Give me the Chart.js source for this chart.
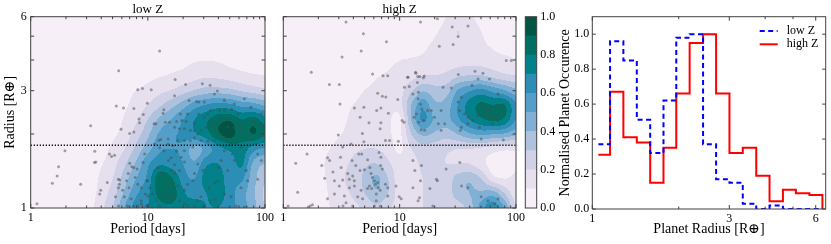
<!DOCTYPE html>
<html>
<head>
<meta charset="utf-8">
<script src="https://cdn.jsdelivr.net/npm/chart.js@4"></script>
<style>
  body { margin: 0; background: #fff; }
  #wrap { position: relative; width: 831px; height: 244px; }
  canvas { position: absolute; top: 0; }
</style>
</head>
<body>
<div id="wrap">
  <canvas id="lowZ" width="280" height="244" style="left:0px"></canvas>
  <canvas id="highZ" width="260" height="244" style="left:270px"></canvas>
  <canvas id="colorbar" width="50" height="244" style="left:520px"></canvas>
  <canvas id="radiusHist" width="291" height="244" style="left:540px"></canvas>
</div>
<script>
// ---- axes ----
const periodTicks = [1, 2, 3, 4, 5, 6, 7, 8, 9, 10, 20, 30, 40, 50, 60, 70, 80, 90, 100];
const periodLabels = [1, 10, 100];
const radiusTicks = [1, 2, 3, 4, 5, 6];
const radiusLabels = [1, 3, 6];
const gapRadius = 1.8;

// ---- density grids (rows from R=1 upward, columns from P=1 rightward) ----
const gridPeriods = [1, 1.26, 1.58, 2, 2.51, 3.16, 3.98, 5.01, 6.31, 7.94, 10, 12.6, 15.8, 20, 25.1, 31.6, 39.8, 50.1, 63.1, 79.4, 100];
const gridRadii = [1, 1.148, 1.318, 1.514, 1.738, 1.995, 2.291, 2.63, 3.02, 3.467, 3.981, 4.571, 5.248, 6.026];

const lowZDensity = [
  [0, 0, 0, 0, 0, 0.06, 0.17, 0.3, 0.5, 0.65, 0.7, 0.76, 0.78, 0.74, 0.78, 0.7, 0.7, 0.64, 0.55, 0.44, 0.3],
  [0, 0, 0, 0, 0, 0.05, 0.14, 0.25, 0.42, 0.58, 0.68, 0.84, 0.86, 0.72, 0.65, 0.7, 0.76, 0.64, 0.55, 0.42, 0.28],
  [0, 0, 0, 0, 0, 0.04, 0.12, 0.2, 0.35, 0.5, 0.63, 0.88, 0.82, 0.65, 0.6, 0.76, 0.78, 0.62, 0.62, 0.44, 0.32],
  [0, 0, 0, 0, 0, 0.03, 0.09, 0.16, 0.28, 0.42, 0.58, 0.68, 0.65, 0.6, 0.52, 0.68, 0.7, 0.64, 0.72, 0.48, 0.4],
  [0, 0, 0, 0, 0, 0.01, 0.06, 0.12, 0.2, 0.33, 0.46, 0.58, 0.6, 0.58, 0.45, 0.55, 0.66, 0.72, 0.76, 0.64, 0.58],
  [0, 0, 0, 0, 0, 0, 0.04, 0.08, 0.14, 0.25, 0.38, 0.52, 0.58, 0.62, 0.68, 0.76, 0.88, 0.94, 0.84, 0.9, 0.82],
  [0, 0, 0, 0, 0, 0, 0.01, 0.05, 0.11, 0.18, 0.3, 0.42, 0.5, 0.6, 0.7, 0.78, 0.86, 0.88, 0.8, 0.84, 0.75],
  [0, 0, 0, 0, 0, 0, 0, 0.02, 0.08, 0.14, 0.2, 0.28, 0.36, 0.45, 0.55, 0.6, 0.64, 0.62, 0.56, 0.54, 0.48],
  [0, 0, 0, 0, 0, 0, 0, 0, 0.05, 0.1, 0.13, 0.17, 0.2, 0.25, 0.3, 0.34, 0.34, 0.32, 0.28, 0.25, 0.22],
  [0, 0, 0, 0, 0, 0, 0, 0, 0, 0.03, 0.07, 0.09, 0.11, 0.13, 0.16, 0.18, 0.17, 0.15, 0.13, 0.11, 0.1],
  [0, 0, 0, 0, 0, 0, 0, 0, 0, 0, 0.02, 0.03, 0.05, 0.07, 0.09, 0.1, 0.09, 0.07, 0.05, 0.04, 0.03],
  [0, 0, 0, 0, 0, 0, 0, 0, 0, 0, 0, 0, 0, 0, 0, 0, 0, 0, 0, 0, 0],
  [0, 0, 0, 0, 0, 0, 0, 0, 0, 0, 0, 0, 0, 0, 0, 0, 0, 0, 0, 0, 0],
  [0, 0, 0, 0, 0, 0, 0, 0, 0, 0, 0, 0, 0, 0, 0, 0, 0, 0, 0, 0, 0],
];

const highZDensity = [
  [0, 0, 0, 0.04, 0.1, 0.14, 0.17, 0.22, 0.28, 0.22, 0.16, 0.18, 0.2, 0.22, 0.22, 0.25, 0.35, 0.55, 0.68, 0.5, 0.2],
  [0, 0, 0, 0.05, 0.11, 0.16, 0.22, 0.3, 0.38, 0.3, 0.15, 0.17, 0.2, 0.22, 0.24, 0.35, 0.4, 0.42, 0.45, 0.3, 0.14],
  [0, 0, 0, 0.06, 0.12, 0.18, 0.25, 0.32, 0.42, 0.3, 0.14, 0.16, 0.2, 0.22, 0.24, 0.34, 0.38, 0.3, 0.14, 0.1, 0.12],
  [0, 0.02, 0.05, 0.08, 0.12, 0.17, 0.22, 0.28, 0.3, 0.22, 0.14, 0.16, 0.22, 0.22, 0.2, 0.2, 0.2, 0.14, 0.06, 0.05, 0.08],
  [0, 0.02, 0.04, 0.07, 0.1, 0.14, 0.18, 0.2, 0.2, 0.16, 0.08, 0.2, 0.26, 0.24, 0.22, 0.2, 0.2, 0.18, 0.15, 0.12, 0.12],
  [0, 0.01, 0.03, 0.05, 0.07, 0.1, 0.14, 0.16, 0.15, 0.12, 0.08, 0.3, 0.42, 0.38, 0.34, 0.4, 0.48, 0.52, 0.5, 0.48, 0.42],
  [0, 0, 0, 0.02, 0.05, 0.08, 0.12, 0.15, 0.14, 0.12, 0.08, 0.4, 0.62, 0.48, 0.46, 0.58, 0.7, 0.78, 0.82, 0.78, 0.6],
  [0, 0, 0, 0.02, 0.04, 0.07, 0.1, 0.13, 0.14, 0.13, 0.16, 0.4, 0.56, 0.42, 0.44, 0.6, 0.74, 0.82, 0.8, 0.8, 0.62],
  [0, 0, 0, 0, 0.02, 0.04, 0.06, 0.1, 0.12, 0.12, 0.16, 0.28, 0.38, 0.34, 0.35, 0.5, 0.58, 0.62, 0.56, 0.5, 0.42],
  [0, 0, 0, 0, 0, 0, 0.02, 0.05, 0.09, 0.11, 0.13, 0.16, 0.2, 0.2, 0.22, 0.28, 0.3, 0.3, 0.26, 0.22, 0.2],
  [0, 0, 0, 0, 0, 0, 0, 0.02, 0.04, 0.07, 0.1, 0.11, 0.12, 0.13, 0.15, 0.16, 0.17, 0.16, 0.14, 0.13, 0.11],
  [0, 0, 0, 0, 0, 0, 0, 0, 0, 0, 0.03, 0.05, 0.08, 0.12, 0.16, 0.18, 0.16, 0.12, 0.09, 0.06, 0.04],
  [0, 0, 0, 0, 0, 0, 0, 0, 0, 0, 0, 0, 0.03, 0.08, 0.14, 0.2, 0.15, 0.1, 0.05, 0.02, 0],
  [0, 0, 0, 0, 0, 0, 0, 0, 0, 0, 0, 0, 0, 0.03, 0.1, 0.14, 0.12, 0.06, 0, 0, 0],
];

// ---- planets [period (days), radius (R_earth)] ----
const lowZPlanets = [
  [12.6, 4.35], [5.64, 3.62], [17.1, 3.33], [21.0, 3.18], [29.2, 3.2], [34, 3.16], [39.2, 2.99], [8.2, 3.03], [9.0, 3.06], [10.7, 3.03],
  [9.9, 2.67], [5.38, 2.6], [6.2, 2.55], [7.6, 2.54], [9.15, 2.4], [8.4, 2.3], [8.5, 2.22], [5.9, 2.09], [3.25, 2.16], [7.6, 2.04],
  [7.0, 2.01], [1.96, 1.71], [3.52, 1.7], [3.6, 1.54], [3.5, 1.53], [1.73, 1.47], [1.68, 1.35], [1.53, 1.26], [2.67, 1.25], [1.13, 1.04],
  [4.7, 1.66], [4.9, 1.62], [5.2, 1.64], [4.5, 1.27], [3.96, 1.18], [3.88, 1.14], [5.6, 1.31], [5.75, 1.3], [5.7, 1.25], [5.6, 1.21],
  [6.1, 1.18], [5.3, 1.11], [5.6, 1.02], [7.0, 1.52], [7.3, 1.47], [7.6, 1.46], [8.1, 1.44], [9.1, 1.53], [9.4, 1.66], [6.8, 1.38],
  [6.6, 1.29], [7.8, 1.33], [6.9, 1.21], [8.2, 1.25], [8.8, 1.21], [9.8, 1.29], [10.0, 1.12], [6.3, 1.11], [7.2, 1.09], [7.6, 1.02],
  [6.7, 1.02], [8.8, 1.04], [9.7, 1.02],
  [13.7, 2.51], [13.5, 2.43], [11.3, 2.2], [11.7, 2.2], [14.1, 2.23], [15.3, 2.23], [17.6, 2.25], [19.5, 2.27], [21.2, 2.25], [23.1, 2.07],
  [25.0, 2.06], [21.8, 2.41], [26.0, 2.71], [27.2, 2.7], [22.5, 2.74], [16.9, 2.86], [12.4, 1.88], [12.9, 1.9], [14.9, 1.91], [11.4, 1.82],
  [12.6, 1.76], [13.7, 1.71], [15.8, 1.6], [17.6, 1.7], [20.5, 1.88], [23.0, 1.88], [25.0, 1.93], [28.5, 1.88], [32.5, 1.87], [20.5, 1.54],
  [18.6, 1.42], [16.9, 1.5], [15.0, 1.56], [12.2, 1.46], [13.3, 1.38], [15.8, 1.42], [16.9, 1.38], [14.0, 1.29], [14.9, 1.21], [16.1, 1.26],
  [18.0, 1.23], [15.3, 1.14], [13.4, 1.12], [16.9, 1.12], [18.6, 1.07], [20.5, 1.04], [21.8, 1.02], [25.0, 1.02], [26.7, 1.07], [28.5, 1.11],
  [30.4, 1.02], [33.5, 1.21], [37.0, 1.27], [40.3, 1.46], [42.2, 1.56], [39.5, 1.29], [34.2, 1.07], [37.7, 1.08], [45.0, 1.14], [51.3, 1.11],
  [56.6, 1.02], [66.6, 1.01], [62.4, 1.21], [71.0, 1.29], [69.0, 1.42], [86.5, 1.31], [84.0, 1.82], [88.0, 2.2], [81.0, 2.27], [75.9, 2.0],
  [71.0, 1.88], [62.4, 1.77], [51.3, 1.82], [48.0, 1.88], [45.0, 1.94], [41.5, 2.0], [38.7, 2.07], [36.0, 2.2], [34.2, 2.27], [32.5, 2.41],
  [30.4, 2.34], [41.0, 2.49], [45.0, 2.49], [52.0, 2.52], [58.4, 2.41], [54.8, 2.13], [48.0, 2.13], [42.8, 2.23], [47.3, 2.3], [52.0, 2.27],
  [60.5, 2.2], [62.4, 2.07], [34.2, 2.49], [31.4, 2.13], [28.5, 2.07], [26.7, 2.0], [37.0, 1.88], [24.2, 1.77], [20.5, 1.71], [19.2, 1.61],
  [26.7, 1.51], [29.5, 1.42], [25.0, 1.38], [24.2, 1.29], [21.8, 1.25], [20.5, 1.18], [10.0, 1.29], [10.4, 1.21], [9.5, 1.14], [8.8, 1.07],
  [8.2, 1.02], [11.0, 1.14], [11.8, 1.07], [12.6, 1.02], [10.0, 1.02], [48.0, 1.42], [54.8, 1.56], [52.5, 1.66], [45.0, 1.71], [18.0, 1.88],
  [16.4, 1.79], [14.9, 1.82], [18.6, 2.1], [16.9, 2.13], [20.5, 2.1], [25.0, 2.2], [19.0, 2.41], [27.2, 2.41], [30.4, 2.7], [37.0, 2.91],
  [45.0, 2.74], [54.8, 2.65], [66.6, 2.78], [75.9, 2.57], [93.0, 2.41], [96.0, 2.16], [93.0, 2.0], [86.5, 1.66], [93.0, 1.56],
];

const highZPlanets = [
  [3.46, 5.71], [4.88, 5.11], [4.67, 4.35], [3.2, 4.11], [7.7, 4.75], [1.74, 3.57], [2.49, 3.18], [3.03, 3.18], [5.85, 3.51], [7.2, 3.45],
  [7.9, 3.45], [3.07, 2.65], [4.08, 2.55], [4.93, 2.57], [4.57, 2.34], [5.45, 2.22], [6.35, 2.49], [6.9, 2.55], [8.0, 2.43], [6.48, 2.93],
  [7.1, 2.85], [7.6, 2.83], [9.64, 2.76], [11.7, 3.4], [13.8, 3.53], [14.3, 3.43], [16.3, 3.44], [14.5, 2.96], [12.1, 3.12], [2.97, 1.98],
  [4.78, 2.01], [6.9, 2.22], [6.8, 2.1], [7.55, 1.88], [9.75, 1.87], [3.82, 1.82], [3.24, 1.77], [4.93, 1.86], [1.6, 1.66], [1.28, 1.52],
  [1.33, 1.16], [1.1, 1.02], [1.64, 1.01], [1.7, 1.02], [1.78, 1.03], [2.4, 1.6], [2.5, 1.56], [3.1, 1.61], [3.14, 1.46], [2.14, 1.49],
  [2.67, 1.4], [2.27, 1.32], [2.75, 1.29], [3.24, 1.3], [3.03, 1.23], [3.58, 1.38], [3.69, 1.31], [3.95, 1.35], [4.08, 1.29], [4.2, 1.49],
  [3.9, 1.56], [4.72, 1.66], [4.45, 1.66], [4.98, 1.43], [4.57, 1.42], [5.3, 1.57], [5.55, 1.46], [5.68, 1.38], [5.85, 1.33], [6.07, 1.29],
  [6.18, 1.25], [6.48, 1.27], [6.55, 1.21], [6.8, 1.18], [6.3, 1.14], [5.75, 1.2], [5.5, 1.23], [5.3, 1.2], [6.3, 1.07], [4.67, 1.18],
  [4.8, 1.09], [4.36, 1.11], [4.08, 1.23], [3.7, 1.21], [3.35, 1.12], [2.75, 1.14], [2.4, 1.09], [3.46, 1.05], [3.26, 1.02], [3.95, 1.02],
  [6.07, 1.02], [6.8, 1.02], [7.55, 1.25], [7.9, 1.21], [7.9, 1.12], [9.3, 1.23], [9.9, 1.11], [6.9, 1.61], [6.65, 1.68], [7.1, 1.44],
  [6.85, 1.49], [8.2, 1.88],
  [15.1, 5.71], [21.1, 5.89], [28.3, 5.45], [38.7, 5.5], [31.8, 4.98], [21.9, 4.55], [28.8, 4.62], [13.7, 3.57], [14.9, 3.43], [16.0, 3.39],
  [11.8, 3.4], [11.0, 3.1], [14.2, 3.24], [13.0, 2.91], [14.4, 2.78], [15.1, 2.64], [15.5, 2.53], [13.9, 2.41], [13.3, 2.34], [14.6, 2.23],
  [16.1, 2.27], [17.4, 2.49], [15.3, 2.08], [16.4, 2.07], [18.7, 2.49], [22.7, 2.49], [23.6, 3.1], [27.8, 3.08], [31.9, 3.49], [33.9, 2.82],
  [31.8, 2.7], [32.8, 2.49], [36.2, 2.41], [38.6, 2.34], [44.4, 3.6], [41.9, 3.15], [47.2, 3.35], [52.0, 3.53], [59.1, 3.35], [70.0, 2.91],
  [72.0, 2.61], [65.6, 2.57], [49.5, 2.65], [55.4, 2.53], [59.1, 2.49], [54.0, 2.41], [47.2, 2.38], [42.5, 2.27], [38.6, 2.2], [33.9, 2.13],
  [56.5, 2.34], [61.6, 2.34], [70.0, 2.41], [78.5, 2.63], [79.7, 2.41], [70.0, 2.27], [62.9, 2.2], [48.6, 2.13], [50.2, 1.91], [82.5, 3.98],
  [91.0, 3.98], [77.8, 1.89], [33.3, 2.07], [24.4, 2.2], [21.5, 2.2], [19.9, 2.34], [22.7, 2.07], [10.5, 2.27], [10.9, 2.23],
  [13.0, 1.56], [13.5, 1.42], [15.4, 1.49], [15.1, 1.29], [20.7, 1.31], [21.1, 1.29], [18.2, 1.2], [25.1, 1.44], [32.9, 1.53], [38.6, 1.21],
  [34.0, 1.23], [50.2, 1.11], [57.4, 1.07], [65.6, 1.04], [70.0, 1.09], [10.3, 1.09], [14.8, 1.1], [14.4, 1.07], [19.3, 1.02], [13.0, 1.21],
];

// ---- contour levels ----
const levelBounds = [0, 0.1, 0.2, 0.3, 0.4, 0.5, 0.6, 0.7, 0.8, 0.9, 1.0];
const levelColors = ['#f7eff7', '#e6dfee', '#d0d1e6', '#aec1dd', '#80b1d4', '#539fc9', '#2c8db5', '#02818a', '#017063', '#015544'];
const colorbarTicks = [0, 0.2, 0.4, 0.6, 0.8, 1.0];

// ---- radius histogram ----
const binEdges = [1.05, 1.153, 1.283, 1.429, 1.591, 1.77, 1.961, 2.183, 2.431, 2.699, 3.004, 3.343, 3.724, 4.143, 4.613, 5.118, 5.703, 6.33];
const lowZHist = [0.37, 0.96, 0.85, 0.51, 0.32, 0.62, 0.98, 1.0, 0.37, 0.17, 0.15, 0.03, 0.0, 0.02, 0.0, 0.0, 0.0];
const highZHist = [0.31, 0.67, 0.41, 0.38, 0.15, 0.35, 0.66, 0.95, 1.0, 0.66, 0.32, 0.35, 0.19, 0.045, 0.11, 0.09, 0.08];
const histYTicks = [0, 0.2, 0.4, 0.6, 0.8, 1.0];

const FONT = '"Liberation Serif", "DejaVu Serif", serif';
Chart.defaults.font.family = FONT;
Chart.defaults.font.size = 12;
Chart.defaults.color = '#000';

// fractional index of a value inside a log spaced grid axis
function gridIndex(axis, value) {
  const l = Math.log10(value);
  const logs = axis.map(Math.log10);
  if (l <= logs[0]) return 0;
  for (let i = 0; i < logs.length - 1; i++) {
    if (l <= logs[i + 1]) return i + (l - logs[i]) / (logs[i + 1] - logs[i]);
  }
  return logs.length - 1;
}

function cubic(p0, p1, p2, p3, t) {
  return p1 + 0.5 * t * (p2 - p0 + t * (2 * p0 - 5 * p1 + 4 * p2 - p3 + t * (3 * (p1 - p2) + p3 - p0)));
}

function sampleGrid(g, fx, fy) {
  const nr = g.length, nc = g[0].length;
  const ix = Math.floor(fx), iy = Math.floor(fy);
  const tx = fx - ix, ty = fy - iy;
  const at = (r, c) => g[Math.min(nr - 1, Math.max(0, r))][Math.min(nc - 1, Math.max(0, c))];
  const col = [];
  for (let k = -1; k <= 2; k++) {
    col.push(cubic(at(iy + k, ix - 1), at(iy + k, ix), at(iy + k, ix + 1), at(iy + k, ix + 2), tx));
  }
  return cubic(col[0], col[1], col[2], col[3], ty);
}

const levelRGB = levelColors.map(h => [1, 3, 5].map(i => parseInt(h.slice(i, i + 2), 16)));

// filled contours, drawn pixel by pixel through the chart scales
const contourPlugin = {
  id: 'contour',
  beforeDatasetsDraw(chart, args, opts) {
    if (!opts.grid) return;
    const { ctx, chartArea: a, scales: { x, y } } = chart;
    const x0 = Math.round(a.left), y0 = Math.round(a.top);
    const w = Math.round(a.right) - x0, h = Math.round(a.bottom) - y0;
    const img = ctx.createImageData(w, h);
    const fxs = [];
    for (let i = 0; i < w; i++) fxs.push(gridIndex(gridPeriods, x.getValueForPixel(x0 + i + 0.5)));
    for (let j = 0; j < h; j++) {
      const fy = gridIndex(gridRadii, y.getValueForPixel(y0 + j + 0.5));
      for (let i = 0; i < w; i++) {
        const v = sampleGrid(opts.grid, fxs[i], fy);
        let k = 0;
        while (k < levelColors.length - 1 && v >= levelBounds[k + 1]) k++;
        const c = levelRGB[k];
        const p = (j * w + i) * 4;
        img.data[p] = c[0]; img.data[p + 1] = c[1]; img.data[p + 2] = c[2]; img.data[p + 3] = 255;
      }
    }
    ctx.putImageData(img, x0, y0);
  }
};

// frame, inward ticks (matplotlib style), panel title
const framePlugin = {
  id: 'frame',
  afterDraw(chart, args, opts) {
    const { ctx, chartArea: a } = chart;
    ctx.save();
    ctx.strokeStyle = '#404040';
    ctx.lineWidth = 1;
    const seg = (x1, y1, x2, y2) => { ctx.beginPath(); ctx.moveTo(x1, y1); ctx.lineTo(x2, y2); ctx.stroke(); };
    if (opts.xTicks !== false) {
      const s = chart.scales.x;
      s.ticks.forEach(t => {
        const px = s.getPixelForValue(t.value);
        const len = t.label ? 4 : 2.5;
        seg(px, a.bottom, px, a.bottom - len);
        seg(px, a.top, px, a.top + len);
      });
    }
    if (opts.yTicks !== false) {
      const s = chart.scales.y;
      s.ticks.forEach(t => {
        const py = s.getPixelForValue(t.value);
        seg(a.left, py, a.left + 3.5, py);
        seg(a.right, py, a.right - 3.5, py);
      });
    }
    ctx.strokeRect(a.left, a.top, a.right - a.left, a.bottom - a.top);
    if (opts.title) {
      ctx.fillStyle = '#000';
      ctx.font = '13px ' + FONT;
      ctx.textAlign = 'center';
      ctx.textBaseline = 'middle';
      ctx.fillText(opts.title, (a.left + a.right) / 2, 9.5);
    }
    ctx.restore();
  }
};

// legend inside the histogram axes, top right
const stepLegend = {
  id: 'stepLegend',
  afterDatasetsDraw(chart) {
    const { ctx, chartArea: a } = chart;
    ctx.save();
    chart.data.datasets.forEach((ds, i) => {
      const y = a.top + 14.3 + i * 13.3;
      ctx.strokeStyle = ds.borderColor;
      ctx.lineWidth = ds.borderWidth;
      ctx.setLineDash(ds.borderDash || []);
      ctx.beginPath(); ctx.moveTo(a.right - 66, y); ctx.lineTo(a.right - 48, y); ctx.stroke();
      ctx.setLineDash([]);
      ctx.fillStyle = '#000';
      ctx.font = '12px ' + FONT;
      ctx.textBaseline = 'middle';
      ctx.fillText(ds.label, a.right - 39, y);
    });
    ctx.restore();
  }
};

function buildPanel(canvasId, planets, density, title, yWidth, rightPad, withYLabels) {
  return new Chart(document.getElementById(canvasId), {
    type: 'scatter',
    data: {
      datasets: [
        {
          type: 'line',
          data: [{ x: periodTicks[0], y: gapRadius }, { x: periodTicks[periodTicks.length - 1], y: gapRadius }],
          borderColor: '#111', borderWidth: 1.3, borderDash: [1.3, 1.7], pointRadius: 0,
        },
        {
          data: planets.map(([p, r]) => ({ x: p, y: r })),
          pointRadius: 1.5,
          pointBackgroundColor: 'rgba(75,75,75,0.5)',
          pointBorderWidth: 0,
        },
      ],
    },
    options: {
      responsive: false,
      animation: false,
      events: [],
      layout: { padding: { top: 16.7, right: rightPad, bottom: 0, left: 0 } },
      plugins: {
        legend: { display: false },
        tooltip: { enabled: false },
        contour: { grid: density },
        frame: { title },
      },
      scales: {
        x: {
          type: 'logarithmic', min: 1, max: 100,
          grid: { display: false, drawTicks: false }, border: { display: false },
          afterBuildTicks: (s) => { s.ticks = periodTicks.map(v => ({ value: v })); },
          ticks: { autoSkip: false, maxRotation: 0, padding: 3, font: { size: 12 },
            callback: (v) => periodLabels.includes(v) ? String(v) : '' },
          title: { display: true, text: 'Period [days]', font: { size: 14 }, padding: { top: 0, bottom: 6 } },
          afterFit: (s) => { s.height = 36; s.paddingLeft = 0; s.paddingRight = 0; },
        },
        y: {
          type: 'logarithmic', min: 1, max: 6,
          grid: { display: false, drawTicks: false }, border: { display: false },
          afterBuildTicks: (s) => { s.ticks = radiusTicks.map(v => ({ value: v })); },
          ticks: { autoSkip: false, padding: 4, font: { size: 12 },
            callback: (v) => withYLabels && radiusLabels.includes(v) ? String(v) : '' },
          title: { display: withYLabels, text: 'Radius [R⊕]', font: { size: 14 }, padding: { top: 2, bottom: 0 } },
          afterFit: (s) => { s.width = yWidth; s.paddingTop = 0; s.paddingBottom = 0; },
        },
      },
    },
    plugins: [contourPlugin, framePlugin],
  });
}

buildPanel('lowZ', lowZPlanets, lowZDensity, 'low Z', 30.7, 15, true);
buildPanel('highZ', highZPlanets, highZDensity, 'high Z', 13.3, 14, false);

// colorbar as a stacked bar, one segment per contour level
new Chart(document.getElementById('colorbar'), {
  type: 'bar',
  data: {
    labels: [''],
    datasets: levelColors.map((c, i) => ({
      data: [levelBounds[i + 1] - levelBounds[i]],
      backgroundColor: c, borderWidth: 0, barPercentage: 1, categoryPercentage: 1,
    })),
  },
  options: {
    responsive: false,
    animation: false,
    events: [],
    layout: { padding: { top: 16.7, right: 0, bottom: 36, left: 5.3 } },
    plugins: { legend: { display: false }, tooltip: { enabled: false }, frame: { xTicks: false, yTicks: false } },
    scales: {
      x: { stacked: true, display: false },
      y: {
        stacked: true, position: 'right', min: 0, max: 1,
        grid: { display: false, drawTicks: false }, border: { display: false },
        afterBuildTicks: (s) => { s.ticks = colorbarTicks.map(v => ({ value: v })); },
        ticks: { padding: 3.6, font: { size: 12 }, callback: (v) => v.toFixed(1) },
        afterFit: (s) => { s.width = 33.3; s.paddingTop = 0; s.paddingBottom = 0; },
      },
    },
  },
  plugins: [framePlugin],
});

function stepPoints(values) {
  const last = binEdges[binEdges.length - 1];
  const pts = values.map((v, i) => ({ x: binEdges[i], y: v }));
  pts.push({ x: last, y: values[values.length - 1] });
  pts.push({ x: last, y: 0 });
  return pts;
}

new Chart(document.getElementById('radiusHist'), {
  type: 'line',
  data: {
    datasets: [
      { label: 'low Z', data: stepPoints(lowZHist), borderColor: '#0000ff', borderWidth: 2, borderDash: [5, 3.5],
        stepped: true, pointRadius: 0, fill: false },
      { label: 'high Z', data: stepPoints(highZHist), borderColor: '#ff0000', borderWidth: 2,
        stepped: true, pointRadius: 0, fill: false },
    ],
  },
  options: {
    responsive: false,
    animation: false,
    events: [],
    layout: { padding: { top: 16.7, right: 5.3, bottom: 0, left: 0 } },
    plugins: { legend: { display: false }, tooltip: { enabled: false }, frame: {} },
    scales: {
      x: {
        type: 'logarithmic', min: 1, max: 6.5,
        grid: { display: false, drawTicks: false }, border: { display: false },
        afterBuildTicks: (s) => { s.ticks = radiusTicks.map(v => ({ value: v })); },
        ticks: { autoSkip: false, maxRotation: 0, padding: 3, font: { size: 12 },
          callback: (v) => radiusLabels.includes(v) ? String(v) : '' },
        title: { display: true, text: 'Planet Radius [R⊕]', font: { size: 14 }, padding: { top: 0, bottom: 6 } },
        afterFit: (s) => { s.height = 35; s.paddingLeft = 0; s.paddingRight = 0; },
      },
      y: {
        min: 0, max: 1.1,
        grid: { display: false, drawTicks: false }, border: { display: false },
        afterBuildTicks: (s) => { s.ticks = histYTicks.map(v => ({ value: v })); },
        ticks: { padding: 3, font: { size: 12 }, callback: (v) => v.toFixed(1) },
        title: { display: true, text: 'Normalised Planet Occurence', font: { size: 14 }, padding: { top: 17, bottom: 0 } },
        afterFit: (s) => { s.width = 52.3; s.paddingTop = 0; s.paddingBottom = 0; },
      },
    },
  },
  plugins: [framePlugin, stepLegend],
});
</script>
</body>
</html>
